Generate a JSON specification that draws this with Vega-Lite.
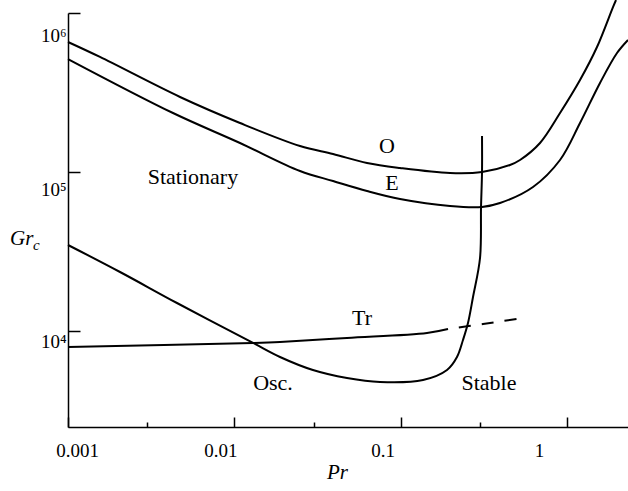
{
  "$schema": "https://vega.github.io/schema/vega-lite/v6.json",
  "width": 560,
  "height": 414,
  "autosize": {"type": "none"},
  "padding": {"left": 68, "top": 13, "right": 0, "bottom": 64},
  "background": "white",
  "config": {"view": {"stroke": null}, "text": {"font": "Liberation Serif", "color": "black"}},
  "datasets": {
    "curves": [
      {"s": "O", "i": 0, "Pr": 0.001, "Gr": 657000},
      {"s": "O", "i": 1, "Pr": 0.001557, "Gr": 529000},
      {"s": "O", "i": 2, "Pr": 0.004717, "Gr": 296300},
      {"s": "O", "i": 3, "Pr": 0.01082, "Gr": 203300},
      {"s": "O", "i": 4, "Pr": 0.02484, "Gr": 145700},
      {"s": "O", "i": 5, "Pr": 0.03924, "Gr": 129800},
      {"s": "O", "i": 6, "Pr": 0.06281, "Gr": 113900},
      {"s": "O", "i": 7, "Pr": 0.0992, "Gr": 106000},
      {"s": "O", "i": 8, "Pr": 0.1982, "Gr": 98600},
      {"s": "O", "i": 9, "Pr": 0.3087, "Gr": 100000},
      {"s": "O", "i": 10, "Pr": 0.4547, "Gr": 110700},
      {"s": "O", "i": 11, "Pr": 0.5224, "Gr": 119000},
      {"s": "O", "i": 12, "Pr": 0.689, "Gr": 152200},
      {"s": "O", "i": 13, "Pr": 0.909, "Gr": 235000},
      {"s": "O", "i": 14, "Pr": 1.199, "Gr": 379000},
      {"s": "O", "i": 15, "Pr": 1.517, "Gr": 611000},
      {"s": "O", "i": 16, "Pr": 1.893, "Gr": 1090000},
      {"s": "O", "i": 17, "Pr": 1.974, "Gr": 1207000},
      {"s": "E", "i": 0, "Pr": 0.001, "Gr": 513600},
      {"s": "E", "i": 1, "Pr": 0.004279, "Gr": 235000},
      {"s": "E", "i": 2, "Pr": 0.01082, "Gr": 152200},
      {"s": "E", "i": 3, "Pr": 0.02484, "Gr": 101500},
      {"s": "E", "i": 4, "Pr": 0.03924, "Gr": 87800},
      {"s": "E", "i": 5, "Pr": 0.06281, "Gr": 75960},
      {"s": "E", "i": 6, "Pr": 0.0992, "Gr": 67650},
      {"s": "E", "i": 7, "Pr": 0.1982, "Gr": 61100},
      {"s": "E", "i": 8, "Pr": 0.3087, "Gr": 60300},
      {"s": "E", "i": 9, "Pr": 0.396, "Gr": 63800},
      {"s": "E", "i": 10, "Pr": 0.6254, "Gr": 80500},
      {"s": "E", "i": 11, "Pr": 0.909, "Gr": 119000},
      {"s": "E", "i": 12, "Pr": 1.199, "Gr": 203300},
      {"s": "E", "i": 13, "Pr": 1.581, "Gr": 363000},
      {"s": "E", "i": 14, "Pr": 2.001, "Gr": 560000},
      {"s": "E", "i": 15, "Pr": 2.33, "Gr": 676500},
      {"s": "N", "i": 0, "Pr": 0.3087, "Gr": 168400},
      {"s": "N", "i": 1, "Pr": 0.3087, "Gr": 100000},
      {"s": "N", "i": 2, "Pr": 0.3045, "Gr": 60300},
      {"s": "N", "i": 3, "Pr": 0.3003, "Gr": 28780},
      {"s": "N", "i": 4, "Pr": 0.2725, "Gr": 16360},
      {"s": "N", "i": 5, "Pr": 0.2542, "Gr": 11230},
      {"s": "N", "i": 6, "Pr": 0.2372, "Gr": 8780},
      {"s": "N", "i": 7, "Pr": 0.2183, "Gr": 6863},
      {"s": "N", "i": 8, "Pr": 0.1901, "Gr": 5684},
      {"s": "N", "i": 9, "Pr": 0.1364, "Gr": 4918},
      {"s": "N", "i": 10, "Pr": 0.0752, "Gr": 4777},
      {"s": "N", "i": 11, "Pr": 0.0476, "Gr": 5062},
      {"s": "N", "i": 12, "Pr": 0.0297, "Gr": 5684},
      {"s": "N", "i": 13, "Pr": 0.01883, "Gr": 6863},
      {"s": "N", "i": 14, "Pr": 0.01296, "Gr": 8407},
      {"s": "N", "i": 15, "Pr": 0.004521, "Gr": 15000},
      {"s": "N", "i": 16, "Pr": 0.002055, "Gr": 23500},
      {"s": "N", "i": 17, "Pr": 0.001, "Gr": 34750},
      {"s": "Tr", "i": 0, "Pr": 0.001, "Gr": 7932},
      {"s": "Tr", "i": 1, "Pr": 0.01296, "Gr": 8407},
      {"s": "Tr", "i": 2, "Pr": 0.01883, "Gr": 8530},
      {"s": "Tr", "i": 3, "Pr": 0.0476, "Gr": 9037},
      {"s": "Tr", "i": 4, "Pr": 0.1441, "Gr": 9714},
      {"s": "Tr", "i": 5, "Pr": 0.1928, "Gr": 10290}
    ],
    "trdash": [
      {"i": 0, "Pr": 0.1928, "Gr": 10290},
      {"i": 1, "Pr": 0.313, "Gr": 11070},
      {"i": 2, "Pr": 0.501, "Gr": 11900}
    ],
    "notes": [
      {"t": "O", "Pr": 0.0828, "Gr": 145700},
      {"t": "E", "Pr": 0.0888, "Gr": 85300},
      {"t": "Stationary", "Pr": 0.00564, "Gr": 93000},
      {"t": "Tr", "Pr": 0.0586, "Gr": 12070},
      {"t": "Osc.", "Pr": 0.01709, "Gr": 4710},
      {"t": "Stable", "Pr": 0.34, "Gr": 4710}
    ],
    "ytitle": [{"t": "Gr", "Pr": 0.000448, "Gr": 37900}],
    "ysub": [{"t": "c", "Pr": 0.000616, "Gr": 34750}]
  },
  "encoding": {
    "x": {
      "field": "Pr",
      "type": "quantitative",
      "scale": {"type": "log", "domain": [0.001, 2.33], "nice": false, "zero": false},
      "axis": {
        "values": [0.001, 0.003, 0.01, 0.03, 0.1, 0.3, 1],
        "labelExpr": "datum.value == 0.001 ? '0.001' : datum.value == 0.01 ? '0.01' : datum.value == 0.1 ? '0.1' : datum.value == 1 ? '1' : ''",
        "tickSize": {"condition": {"test": "datum.value == 0.001 || datum.value == 0.01 || datum.value == 0.1 || datum.value == 1", "value": -10}, "value": -5},
        "labelOffset": {"condition": [
          {"test": "datum.value == 0.001", "value": 9},
          {"test": "datum.value == 0.01", "value": -14},
          {"test": "datum.value == 0.1", "value": -18},
          {"test": "datum.value == 1", "value": -28}
        ], "value": 0},
        "labelPadding": 24,
        "labelFlush": false,
        "labelOverlap": false,
        "labelBound": false,
        "grid": false,
        "domainColor": "black",
        "domainWidth": 1.5,
        "tickColor": "black",
        "tickWidth": 1.5,
        "labelFont": "Liberation Serif",
        "labelFontSize": 19,
        "labelColor": "black",
        "title": "Pr",
        "titleFont": "Liberation Serif",
        "titleFontStyle": "italic",
        "titleFontWeight": "normal",
        "titleFontSize": 21,
        "titleColor": "black",
        "titleX": 269,
        "titleY": 45,
        "titleAlign": "center",
        "titleBaseline": "middle"
      }
    },
    "y": {
      "field": "Gr",
      "type": "quantitative",
      "scale": {"type": "log", "domain": [2490, 1000000], "nice": false, "zero": false},
      "axis": {
        "values": [10000, 100000, 1000000],
        "labelExpr": "'10' + (datum.value == 1000000 ? '⁶' : datum.value == 100000 ? '⁵' : '⁴')",
        "tickSize": -12,
        "labelPadding": 14,
        "labelOffset": {"condition": [
          {"test": "datum.value == 1000000", "value": 22},
          {"test": "datum.value == 100000", "value": 18}
        ], "value": 11},
        "labelFlush": false,
        "labelOverlap": false,
        "labelBound": false,
        "grid": false,
        "domainColor": "black",
        "domainWidth": 1.5,
        "tickColor": "black",
        "tickWidth": 1.5,
        "labelFont": "Liberation Serif",
        "labelFontSize": 19,
        "labelColor": "black",
        "title": null
      }
    }
  },
  "layer": [
    {
      "data": {"name": "curves"},
      "mark": {"type": "line", "interpolate": "catmull-rom", "color": "black", "strokeWidth": 2},
      "encoding": {"detail": {"field": "s"}, "order": {"field": "i", "type": "quantitative"}}
    },
    {
      "data": {"name": "trdash"},
      "mark": {"type": "line", "interpolate": "catmull-rom", "color": "black", "strokeWidth": 2, "strokeDash": [12, 11], "strokeDashOffset": 12},
      "encoding": {"order": {"field": "i", "type": "quantitative"}}
    },
    {
      "data": {"name": "notes"},
      "mark": {"type": "text", "font": "Liberation Serif", "fontSize": 22, "align": "center", "baseline": "middle", "color": "black"},
      "encoding": {"text": {"field": "t"}}
    },
    {
      "data": {"name": "ytitle"},
      "mark": {"type": "text", "font": "Liberation Serif", "fontSize": 21, "fontStyle": "italic", "align": "left", "baseline": "middle", "color": "black"},
      "encoding": {"text": {"field": "t"}}
    },
    {
      "data": {"name": "ysub"},
      "mark": {"type": "text", "font": "Liberation Serif", "fontSize": 15, "fontStyle": "italic", "align": "left", "baseline": "middle", "color": "black"},
      "encoding": {"text": {"field": "t"}}
    }
  ]
}
